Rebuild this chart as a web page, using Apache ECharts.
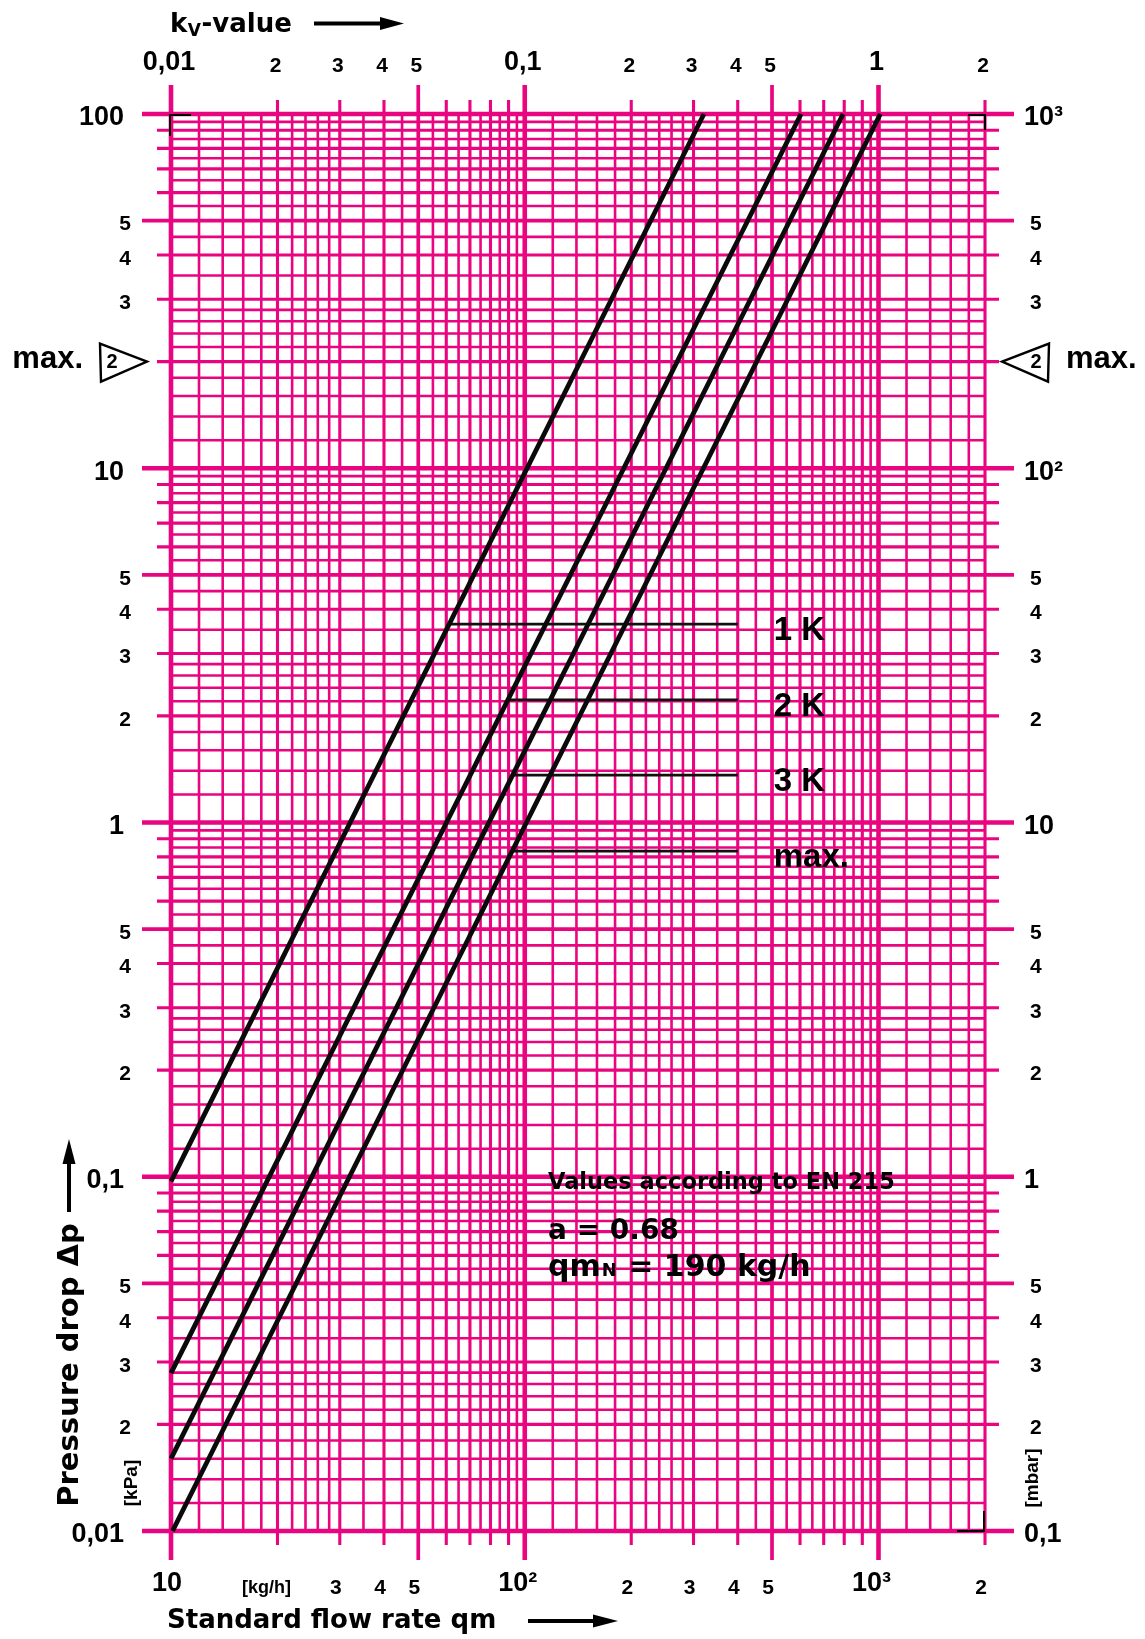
<!DOCTYPE html>
<html><head><meta charset="utf-8">
<script src="https://cdn.jsdelivr.net/npm/echarts@6/dist/echarts.min.js"></script>
<style>html,body{margin:0;padding:0;background:#fff}#c{width:1145px;height:1639px}</style>
</head><body><div id="c"></div><script>
// ---------------- data ----------------
const qmRange = [10, 2000];        // standard flow rate qm [kg/h] (bottom axis)
const dpRange = [0.01, 100];       // pressure drop [kPa] (left axis)
const kvRange = [0.01, 2];         // kv-value (top axis)
const mbarRange = [0.1, 1000];     // pressure drop [mbar] (right axis)

const gridMantissas = [1,1.2,1.4,1.6,1.8,2,2.2,2.4,2.6,2.8,3,3.5,4,4.5,5,5.5,6,6.5,7,7.5,8,8.5,9,9.5];
const qmDecades = [10, 100, 1000];
const dpDecades = [0.01, 0.1, 1, 10, 100];

const bottomTickValues = [10,20,30,40,50,100,200,300,400,500,1000,2000];
const bottomTickLabels = ['10','[kg/h]','3','4','5','10²','2','3','4','5','10³','2'];
const topTickValues = [0.01,0.02,0.03,0.04,0.05,0.1,0.2,0.3,0.4,0.5,1,2];
const topTickLabels = ['0,01','2','3','4','5','0,1','2','3','4','5','1','2'];
const leftTickValues = [100,50,40,30,10,5,4,3,2,1,0.5,0.4,0.3,0.2,0.1,0.05,0.04,0.03,0.02,0.01];
const leftTickLabels = ['100','5','4','3','10','5','4','3','2','1','5','4','3','2','0,1','5','4','3','2','0,01'];
const rightTickValues = [1000,500,400,300,100,50,40,30,20,10,5,4,3,2,1,0.5,0.4,0.3,0.2,0.1];
const rightTickLabels = ['10³','5','4','3','10²','5','4','3','2','10','5','4','3','2','1','5','4','3','2','0,1'];

const maxMarkerDp = 20;     // kPa
const maxMarkerMbar = 200;  // mbar
const maxMarkerText = '2';

const curveNames = ['kv1','kv2','kv3','kv4'];
const curveQmStart = [10, 10, 10, 10.1];
const curveDpStart = [0.097, 0.0279, 0.0160, 0.0100];
const curveQmEnd = [321, 604, 794, 1012];
const curveDpEnd = [100, 100, 100, 100];

const stepLabels = ['1 K','2 K','3 K','max.'];
const stepDp = [3.63, 2.22, 1.36, 0.83];
const stepQmStart = [61, 90, 92.5, 92];
const stepQmEnd = [400, 400, 400, 400];

// ---------------- styling ----------------
const PINK = '#EA0580';
const INK = '#000';
const SANS = '"Liberation Sans", Arial, Helvetica, sans-serif';
const WIDE = '"DejaVu Sans", Verdana, sans-serif';
const GRID_W = [2.6, 3.1, 3.7, 4.6];
const GRID_EXT = [0, 14, 29, 29];
function gridClass(m){ return m === 1 ? 3 : (m === 5 ? 2 : (Number.isInteger(m) ? 1 : 0)); }

const gridQm = [];
qmDecades.forEach(d => gridMantissas.forEach(m => {
  const v = +(m * d).toPrecision(8);
  if (v <= qmRange[1] * 1.000001) gridQm.push([v, dpRange[0], gridClass(m)]);
}));
const gridDp = [];
dpDecades.forEach(d => gridMantissas.forEach(m => {
  const v = +(m * d).toPrecision(8);
  if (v <= dpRange[1] * 1.000001) gridDp.push([qmRange[0], v, gridClass(m)]);
}));

const mctx = document.createElement('canvas').getContext('2d');
function tw(text, size, fam){ mctx.font = 'bold ' + size + 'px ' + fam; return mctx.measureText(text).width; }

function txt(text, size, fam, align){
  return {text: text, fill: INK, fontSize: size, fontWeight: 'bold', fontFamily: fam, align: align || 'center', verticalAlign: 'middle'};
}

const hiddenAxis = {axisLine:{show:false}, axisTick:{show:false}, axisLabel:{show:false}, splitLine:{show:false}};
const bigLabels = ['10','10²','10³','100','1','0,1','0,01'];
function sizeOf(t){ return t === '[kg/h]' ? 18 : (bigLabels.indexOf(t) >= 0 ? 27 : 21); }

const series = [];
// grid vertical lines
series.push({
  type:'custom', xAxisIndex:0, yAxisIndex:0, z:1, silent:true, clip:false,
  data: gridQm, encode:{x:0, y:1},
  renderItem: (params, api) => {
    const v = api.value(0), c = api.value(2);
    const t = api.coord([v, dpRange[1]]), b = api.coord([v, dpRange[0]]);
    return {type:'line', shape:{x1:t[0], y1:t[1]-GRID_EXT[c], x2:b[0], y2:b[1]+GRID_EXT[c]},
      style:{stroke:PINK, lineWidth:GRID_W[c]}};
  }
});
// grid horizontal lines
series.push({
  type:'custom', xAxisIndex:0, yAxisIndex:0, z:1, silent:true, clip:false,
  data: gridDp, encode:{x:0, y:1},
  renderItem: (params, api) => {
    const v = api.value(1), c = api.value(2);
    const l = api.coord([qmRange[0], v]), r = api.coord([qmRange[1], v]);
    return {type:'line', shape:{x1:l[0]-GRID_EXT[c], y1:l[1], x2:r[0]+GRID_EXT[c], y2:r[1]},
      style:{stroke:PINK, lineWidth:GRID_W[c]}};
  }
});
// corner marks
series.push({
  type:'custom', xAxisIndex:0, yAxisIndex:0, z:4, silent:true, clip:false,
  data:[[qmRange[0], dpRange[1]]], encode:{x:0,y:1},
  renderItem: (params, api) => {
    const tl = api.coord([qmRange[0], dpRange[1]]), tr = api.coord([qmRange[1], dpRange[1]]), br = api.coord([qmRange[1], dpRange[0]]);
    const st = {stroke:'#000', lineWidth:2, fill:null};
    return {type:'group', children:[
      {type:'polyline', shape:{points:[[tl[0]+20, tl[1]+1],[tl[0]-1, tl[1]+1],[tl[0]-1, tl[1]+22]]}, style:st},
      {type:'polyline', shape:{points:[[tr[0]-17, tr[1]+1],[tr[0], tr[1]+1],[tr[0], tr[1]+16]]}, style:st},
      {type:'polyline', shape:{points:[[br[0]-28, br[1]],[br[0]-1, br[1]],[br[0]-1, br[1]-20]]}, style:st}
    ]};
  }
});
// bottom tick labels
series.push({
  type:'custom', xAxisIndex:0, yAxisIndex:0, z:6, silent:true, clip:false,
  data: bottomTickValues.map(v => [v, dpRange[0]]), encode:{x:0,y:1},
  renderItem: (params, api) => {
    const p = api.coord([api.value(0), api.value(1)]);
    const t = bottomTickLabels[params.dataIndex];
    const fs = sizeOf(t);
    let dx = -4; if (t === '[kg/h]') dx = -11; else if (/[²³]/.test(t)) dx = -7;
    return {type:'text', x:p[0]+dx, y:p[1]+(fs===27?53:57), style:txt(t, fs, SANS)};
  }
});
// top (kv) tick labels
series.push({
  type:'custom', xAxisIndex:1, yAxisIndex:0, z:6, silent:true, clip:false,
  data: topTickValues.map(v => [v, dpRange[1]]), encode:{x:0,y:1},
  renderItem: (params, api) => {
    const p = api.coord([api.value(0), api.value(1)]);
    const t = topTickLabels[params.dataIndex];
    const fs = sizeOf(t);
    return {type:'text', x:p[0]-2, y:p[1]-(fs===27?51:48), style:txt(t, fs, SANS)};
  }
});
// left tick labels (kPa)
series.push({
  type:'custom', xAxisIndex:0, yAxisIndex:0, z:6, silent:true, clip:false,
  data: leftTickValues.map(v => [qmRange[0], v]), encode:{x:0,y:1},
  renderItem: (params, api) => {
    const p = api.coord([api.value(0), api.value(1)]);
    const t = leftTickLabels[params.dataIndex];
    const fs = sizeOf(t);
    return {type:'text', x:p[0]-(fs===27?47:40), y:p[1]+4, style:txt(t, fs, SANS, 'right')};
  }
});
// right tick labels (mbar)
series.push({
  type:'custom', xAxisIndex:0, yAxisIndex:1, z:6, silent:true, clip:false,
  data: rightTickValues.map(v => [qmRange[1], v]), encode:{x:0,y:1},
  renderItem: (params, api) => {
    const p = api.coord([api.value(0), api.value(1)]);
    const t = rightTickLabels[params.dataIndex];
    const fs = sizeOf(t);
    return {type:'text', x:p[0]+(fs===27?39:45), y:p[1]+4, style:txt(t, fs, SANS, 'left')};
  }
});
// max markers
series.push({
  type:'custom', xAxisIndex:0, yAxisIndex:0, z:6, silent:true, clip:false,
  data:[[qmRange[0], maxMarkerDp]], encode:{x:0,y:1},
  renderItem: (params, api) => {
    const p = api.coord([api.value(0), api.value(1)]);
    return {type:'group', children:[
      {type:'polygon', shape:{points:[[p[0]-71,p[1]-18],[p[0]-24,p[1]],[p[0]-70,p[1]+20]]}, style:{stroke:'#000', lineWidth:2.4, fill:'#fff'}},
      {type:'text', x:p[0]-59, y:p[1]+1, style:txt(maxMarkerText, 20, SANS)},
      {type:'text', x:p[0]-88, y:p[1]-2, style:txt('max.', 31, SANS, 'right')}
    ]};
  }
});
series.push({
  type:'custom', xAxisIndex:0, yAxisIndex:1, z:6, silent:true, clip:false,
  data:[[qmRange[1], maxMarkerMbar]], encode:{x:0,y:1},
  renderItem: (params, api) => {
    const p = api.coord([api.value(0), api.value(1)]);
    return {type:'group', children:[
      {type:'polygon', shape:{points:[[p[0]+17,p[1]],[p[0]+64,p[1]-18],[p[0]+63,p[1]+20]]}, style:{stroke:'#000', lineWidth:2.4, fill:'#fff'}},
      {type:'text', x:p[0]+51, y:p[1]+1, style:txt(maxMarkerText, 20, SANS)},
      {type:'text', x:p[0]+81, y:p[1]-2, style:txt('max.', 31, SANS, 'left')}
    ]};
  }
});
// kv characteristic lines
curveNames.forEach((n, i) => series.push({
  type:'line', name:n, xAxisIndex:0, yAxisIndex:0, z:10, silent:true, symbol:'none',
  data:[[curveQmStart[i], curveDpStart[i]], [curveQmEnd[i], curveDpEnd[i]]],
  lineStyle:{color:'#0a0a0a', width:4.8}
}));
// step lines 1K/2K/3K/max
stepLabels.forEach((n, i) => series.push({
  type:'line', name:n, xAxisIndex:0, yAxisIndex:0, z:9, silent:true, symbol:'none',
  data:[[stepQmStart[i], stepDp[i]], [stepQmEnd[i], stepDp[i]]],
  lineStyle:{color:'#111', width:2.8},
  endLabel:{show:true, formatter:'{a}', distance:36, offset:[0,7], color:INK,
    fontFamily:SANS, fontWeight:'bold', fontSize:33}
}));

// ---------------- titles / annotations ----------------
const G = [];
(function(){
  const x0 = 170, big = 26, small = 17;
  const wk = tw('k', big, WIDE), wv = tw('V', small, WIDE);
  G.push({type:'text', x:x0, y:25, z:100, style:txt('k', big, WIDE, 'left')});
  G.push({type:'text', x:x0+wk+0.5, y:32, z:100, style:txt('V', small, WIDE, 'left')});
  G.push({type:'text', x:x0+wk+wv+1, y:25, z:100, style:txt('-value', big, WIDE, 'left')});
  G.push({type:'line', z:100, shape:{x1:314, y1:23.5, x2:388, y2:23.5}, style:{stroke:'#000', lineWidth:4}});
  G.push({type:'polygon', z:100, shape:{points:[[380,17],[404,23.5],[380,30]]}, style:{fill:'#000'}});
})();
G.push({type:'text', x:167, y:1621, z:100, style:txt('Standard flow rate qm', 26, WIDE, 'left')});
G.push({type:'line', z:100, shape:{x1:528, y1:1621, x2:600, y2:1621}, style:{stroke:'#000', lineWidth:4}});
G.push({type:'polygon', z:100, shape:{points:[[593,1614.5],[618,1621],[593,1627.5]]}, style:{fill:'#000'}});
G.push({type:'text', x:70, y:1365, rotation:Math.PI/2, z:100, style:txt('Pressure drop Δp', 29, WIDE)});
G.push({type:'line', z:100, shape:{x1:69, y1:1212, x2:69, y2:1158}, style:{stroke:'#000', lineWidth:4}});
G.push({type:'polygon', z:100, shape:{points:[[62.5,1164],[69,1139],[75.5,1164]]}, style:{fill:'#000'}});
G.push({type:'text', x:131.5, y:1483, rotation:Math.PI/2, z:100, style:txt('[kPa]', 19, SANS)});
G.push({type:'text', x:1032.5, y:1478, rotation:Math.PI/2, z:100, style:txt('[mbar]', 19, SANS)});
G.push({type:'text', x:548, y:1183, z:100, style:txt('Values according to EN 215', 22.5, WIDE, 'left')});
G.push({type:'text', x:548, y:1232, z:100, style:txt('a = 0.68', 28, WIDE, 'left')});
(function(){
  const big = 30, small = 18;
  const wq = tw('qm', big, WIDE), wn = tw('N', small, WIDE);
  G.push({type:'text', x:548, y:1268, z:100, style:txt('qm', big, WIDE, 'left')});
  G.push({type:'text', x:548+wq+1, y:1271, z:100, style:txt('N', small, WIDE, 'left')});
  G.push({type:'text', x:548+wq+wn+2, y:1268, z:100, style:txt(' = 190 kg/h', big, WIDE, 'left')});
})();

const chart = echarts.init(document.getElementById('c'), null, {renderer:'canvas'});
chart.setOption({
  animation:false,
  backgroundColor:'#fff',
  grid:{left:171, top:114, right:160, bottom:108, containLabel:false},
  xAxis:[
    Object.assign({type:'log', logBase:10, min:qmRange[0], max:qmRange[1], position:'bottom'}, hiddenAxis),
    Object.assign({type:'log', logBase:10, min:kvRange[0], max:kvRange[1], position:'top'}, hiddenAxis)
  ],
  yAxis:[
    Object.assign({type:'log', logBase:10, min:dpRange[0], max:dpRange[1], position:'left'}, hiddenAxis),
    Object.assign({type:'log', logBase:10, min:mbarRange[0], max:mbarRange[1], position:'right'}, hiddenAxis)
  ],
  series: series,
  graphic: G
});
</script></body></html>
